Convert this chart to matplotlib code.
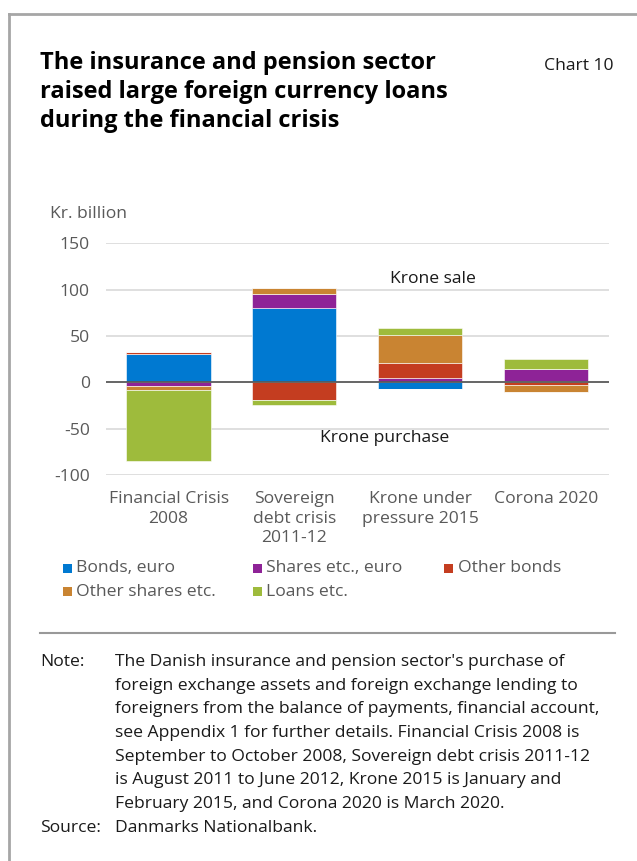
import matplotlib
matplotlib.use("Agg")
import matplotlib.pyplot as plt
import numpy as np
from matplotlib.patches import Rectangle
from matplotlib.lines import Line2D

# ---------------- data ----------------
categories = ["Financial Crisis\n2008", "Sovereign\ndebt crisis\n2011-12",
              "Krone under\npressure 2015", "Corona 2020"]
series_names = ["Bonds, euro", "Shares etc., euro", "Other bonds",
                "Other shares etc.", "Loans etc."]
bonds_euro = [31.2, 80.8, -7.5, 1.4]
shares_euro = [-4.3, 14.7, 5.0, 13.3]
other_bonds = [1.4, -19.1, 16.2, -2.9]
other_shares = [-4.0, 6.8, 30.5, -7.2]
loans = [-76.1, -5.0, 7.2, 10.8]
y_ticks = [150, 100, 50, 0, -50, -100]

colors = ["#0079D1", "#8E2397", "#C43D20", "#C98432", "#9EBB3C"]

W, H = 637, 861
fig = plt.figure(figsize=(W / 100, H / 100), dpi=100)
plt.rcParams['font.family'] = ['Open Sans', 'DejaVu Sans']

FS = 12.6  # body font size


def fx(x):
    return x / W


def fy(y):
    return 1 - y / H


# outer border (left and top)
fig.add_artist(Line2D([fx(8.7), fx(8.7)], [fy(14), fy(H + 5)], color="#a6a6a6", lw=2))
fig.add_artist(Line2D([fx(8.7), fx(W + 5)], [fy(14), fy(14)], color="#a6a6a6", lw=2))

# title
title_lines = ["The insurance and pension sector",
               "raised large foreign currency loans",
               "during the financial crisis"]
for i, line in enumerate(title_lines):
    fig.text(fx(40), fy(69 + 29 * i), line, fontsize=17, fontweight="bold",
             color="black", va="baseline", ha="left")
fig.text(fx(544), fy(70.5), "Chart 10", fontsize=12.6, color="#1a1a1a",
         va="baseline", ha="left")

# axes
ax_left, ax_right = 105.7, 608.8
ax_top, ax_bot = 243.3, 475.3
ax = fig.add_axes([fx(ax_left), fy(ax_bot), (ax_right - ax_left) / W,
                   (ax_bot - ax_top) / H])
ax.set_xlim(-0.5, 3.5)
ax.set_ylim(-100, 150)
for s in ax.spines.values():
    s.set_visible(False)
ax.set_yticks(y_ticks)
ax.set_yticklabels([str(v) for v in y_ticks])
ax.tick_params(axis="y", length=0, pad=11.5, labelsize=FS, labelcolor="#595959")
ax.set_xticks(range(len(categories)))
ax.set_xticklabels(categories, linespacing=1.3)
ax.tick_params(axis="x", length=0, pad=11.5, labelsize=FS, labelcolor="#595959")
for v in y_ticks:
    if v != 0:
        ax.axhline(v, color="#d9d9d9", lw=1.2, zorder=0)

series = [bonds_euro, shares_euro, other_bonds, other_shares, loans]
x = np.arange(len(categories))
pos_base = np.zeros(len(categories))
neg_base = np.zeros(len(categories))
bar_w = 0.67
for vals, c, name in zip(series, colors, series_names):
    vals = np.array(vals, dtype=float)
    pos = np.where(vals > 0, vals, 0)
    neg = np.where(vals < 0, vals, 0)
    ax.bar(x, pos, bar_w, bottom=pos_base, color=c, edgecolor="#ffffff",
           linewidth=0.4, zorder=2, label=name)
    ax.bar(x, neg, bar_w, bottom=neg_base, color=c, edgecolor="#ffffff",
           linewidth=0.4, zorder=2)
    pos_base += pos
    neg_base += neg
ax.axhline(0, color="#595959", lw=1.3, zorder=3)

ax.text(1.76, 112, "Krone sale", fontsize=FS, color="#1a1a1a", va="center", ha="left")
ax.text(1.205, -60, "Krone purchase", fontsize=FS, color="#1a1a1a", va="center", ha="left")

fig.text(fx(50), fy(214), "Kr. billion", fontsize=FS, color="#595959",
         va="center", ha="left")

# legend (manual layout)
leg_pos = [(63, 568), (253, 568), (444, 568), (63, 591.7), (253, 591.7)]
for (lx, ly), c, name in zip(leg_pos, colors, series_names):
    fig.add_artist(Rectangle((fx(lx), fy(ly + 4.5)), 9 / W, 9 / H,
                             facecolor=c, edgecolor="none", transform=fig.transFigure))
    fig.text(fx(lx + 13.5), fy(ly), name, fontsize=FS, color="#595959",
             va="center", ha="left")

# separator
fig.add_artist(Line2D([fx(40), fx(615)], [fy(633), fy(633)], color="#999999", lw=1.5))

note_lines = ["The Danish insurance and pension sector's purchase of",
              "foreign exchange assets and foreign exchange lending to",
              "foreigners from the balance of payments, financial account,",
              "see Appendix 1 for further details. Financial Crisis 2008 is",
              "September to October 2008, Sovereign debt crisis 2011-12",
              "is August 2011 to June 2012, Krone 2015 is January and",
              "February 2015, and Corona 2020 is March 2020."]
fig.text(fx(40), fy(662), "Note:", fontsize=FS, color="#1a1a1a", va="center", ha="left")
for i, line in enumerate(note_lines):
    fig.text(fx(115), fy(662 + 23.7 * i), line, fontsize=FS, color="#1a1a1a",
             va="center", ha="left")
fig.text(fx(40), fy(662 + 23.7 * 7), "Source:", fontsize=FS, color="#1a1a1a",
         va="center", ha="left")
fig.text(fx(115), fy(662 + 23.7 * 7), "Danmarks Nationalbank.", fontsize=FS,
         color="#1a1a1a", va="center", ha="left")

fig.savefig("out.png", dpi=100)
